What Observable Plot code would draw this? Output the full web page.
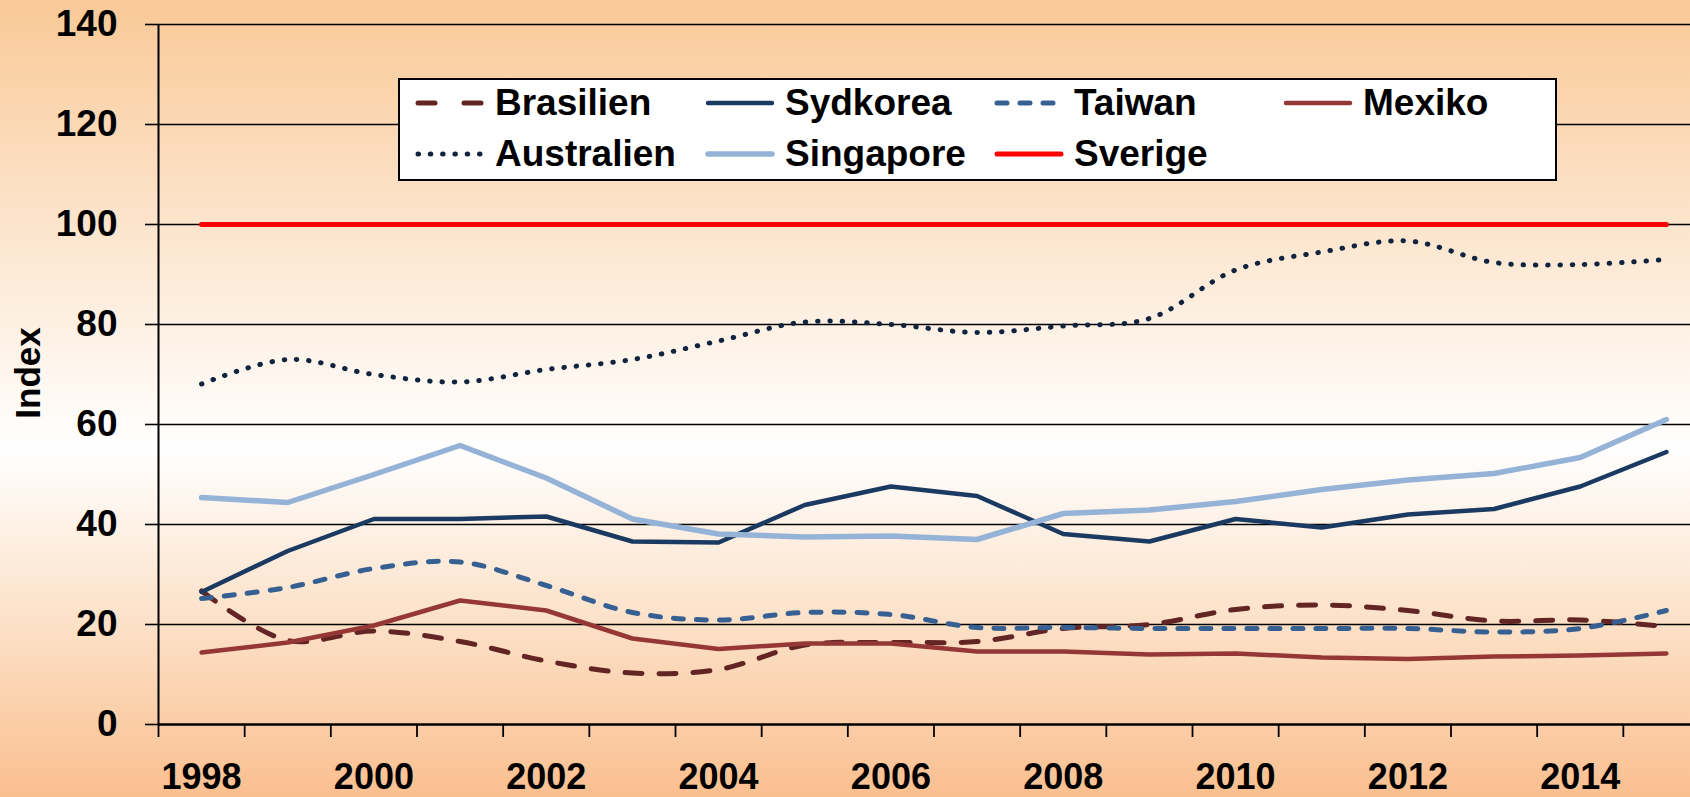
<!DOCTYPE html>
<html>
<head>
<meta charset="utf-8">
<script src="https://cdn.jsdelivr.net/npm/d3@7"></script>
<script src="https://cdn.jsdelivr.net/npm/@observablehq/plot@0.6"></script>
<style>
  html, body { margin: 0; padding: 0; }
  body {
    width: 1690px; height: 797px; overflow: hidden; position: relative;
    background: linear-gradient(to bottom, #F9C997 0%, #FDEBD9 35%, #FFFFFF 56%, #FCE1C8 78%, #FABF8F 100%);
    font-family: "Liberation Sans", Arial, sans-serif; font-weight: bold; color: #000;
  }
  #chart { position: absolute; left: 0; top: 0; }
  #ytitle {
    position: absolute; left: 28px; top: 373px; font-size: 35px;
    transform: translate(-50%, -50%) rotate(-90deg); white-space: nowrap;
  }
  #legend {
    position: absolute; left: 398px; top: 78px; width: 1155px; height: 99px;
    background: #fff; border: 2px solid #000;
  }
  .item { position: absolute; height: 40px; display: flex; align-items: center; font-size: 37px; white-space: nowrap; }
  .item svg { margin-right: 10px; }
</style>
</head>
<body>
<div id="chart"></div>
<div id="ytitle">Index</div>
<div id="legend"></div>
<script>
const years = [1998,1999,2000,2001,2002,2003,2004,2005,2006,2007,2008,2009,2010,2011,2012,2013,2014,2015];
const brasilien  = [26.7,16.8,18.7,16.6,12.7,10.3,11.0,15.9,16.4,16.6,19.2,20.0,23.0,23.9,22.8,20.7,20.9,19.6];
const sydkorea   = [26.5,34.7,41.1,41.1,41.6,36.6,36.4,43.9,47.6,45.7,38.1,36.6,41.1,39.4,42.0,43.1,47.6,54.5];
const taiwan     = [25.2,27.4,31.2,32.5,27.8,22.4,20.9,22.4,22.0,19.4,19.4,19.2,19.2,19.2,19.2,18.5,19.2,22.8];
const mexiko     = [14.4,16.4,19.8,24.8,22.8,17.2,15.1,16.2,16.2,14.6,14.6,14.0,14.2,13.4,13.1,13.6,13.8,14.2];
const australien = [68.1,73.0,70.0,68.5,71.0,73.0,76.7,80.5,80.0,78.4,79.7,81.2,90.9,94.5,96.7,92.4,92.0,93.0];
const singapore  = [45.4,44.4,50.0,55.8,49.3,41.1,38.1,37.5,37.7,37.0,42.2,42.9,44.6,47.0,48.9,50.2,53.4,61.0];
const sverige    = [100,100,100,100,100,100,100,100,100,100,100,100,100,100,100,100,100,100];
const yTicks = [0,20,40,60,80,100,120,140];
const xLabelYears = [1998,2000,2002,2004,2006,2008,2010,2012,2014];

const series = [
  {name: "Brasilien",  values: brasilien,  stroke: "#632523", width: 5,   dash: "17,17",   curve: "catmull-rom"},
  {name: "Sydkorea",   values: sydkorea,   stroke: "#1B3A62", width: 4.5, dash: null,      curve: "linear"},
  {name: "Taiwan",     values: taiwan,     stroke: "#376092", width: 5,   dash: "10,13",   curve: "catmull-rom"},
  {name: "Mexiko",     values: mexiko,     stroke: "#953735", width: 4.5, dash: null,      curve: "linear"},
  {name: "Australien", values: australien, stroke: "#10243F", width: 5,   dash: "0.5,11.8",curve: "catmull-rom"},
  {name: "Singapore",  values: singapore,  stroke: "#95B3D7", width: 5.5, dash: null,      curve: "linear"},
  {name: "Sverige",    values: sverige,    stroke: "#FF0000", width: 5,   dash: null,      curve: "linear"}
];

const boundaries = years.map(y => y - 0.5);

const lineMarks = series.map(s => Plot.line(
  years.map((yr, i) => ({year: yr, value: s.values[i], name: s.name})),
  {x: "year", y: "value", stroke: s.stroke, strokeWidth: s.width,
   strokeDasharray: s.dash || undefined, strokeLinecap: "round", strokeLinejoin: "round", curve: s.curve}
));

const chart = Plot.plot({
  width: 1690, height: 797,
  marginLeft: 158, marginRight: 0, marginTop: 24, marginBottom: 73,
  style: {background: "transparent", overflow: "visible", color: "#000",
          fontFamily: "'Liberation Sans', Arial, sans-serif"},
  x: {type: "linear", domain: [1997.5, 2015.5], range: [158, 1709]},
  y: {domain: [0, 140]},
  marks: [
    Plot.ruleY(yTicks.filter(d => d > 0), {stroke: "#000", strokeWidth: 1.6}),
    Plot.ruleX([1997.5], {y1: 0, y2: 140, stroke: "#000", strokeWidth: 2}),
    Plot.axisY({ticks: yTicks, tickSize: 13, tickPadding: 28, fontSize: 37, fontWeight: "bold",
                label: null, stroke: "#000", strokeWidth: 1.6, tickFormat: d => String(d)}),
    Plot.axisX({ticks: boundaries, tickSize: 13, tickFormat: () => "", label: null,
                stroke: "#000", strokeWidth: 1.8}),
    Plot.axisX({ticks: xLabelYears, tickSize: 0, tickPadding: 39, fontSize: 36, fontWeight: "bold",
                label: null, tickFormat: d => String(d)}),
    ...lineMarks,
    Plot.ruleY([0], {stroke: "#000", strokeWidth: 2.5})
  ]
});
document.getElementById("chart").appendChild(chart);

// legend
const legendPos = {
  Brasilien:  [415 - 400, 103 - 80], Sydkorea:  [705 - 400, 103 - 80],
  Taiwan:     [994 - 400, 103 - 80], Mexiko:    [1283 - 400, 103 - 80],
  Australien: [415 - 400, 154 - 80], Singapore: [705 - 400, 154 - 80],
  Sverige:    [994 - 400, 154 - 80]
};
const legend = document.getElementById("legend");
series.forEach(s => {
  const [lx, ly] = legendPos[s.name];
  const div = document.createElement("div");
  div.className = "item";
  div.style.left = lx + "px";
  div.style.top = (ly - 20) + "px";
  const sw = 70;
  const dashAttr = s.dash ? `stroke-dasharray="${s.name === 'Brasilien' ? '17,29' : s.dash}"` : "";
  div.innerHTML = `<svg width="${sw}" height="14"><line x1="3" y1="7" x2="${sw - 3}" y2="7" stroke="${s.stroke}" stroke-width="${s.width}" stroke-linecap="round" ${dashAttr}/></svg><span>${s.name}</span>`;
  legend.appendChild(div);
});
</script>
</body>
</html>
